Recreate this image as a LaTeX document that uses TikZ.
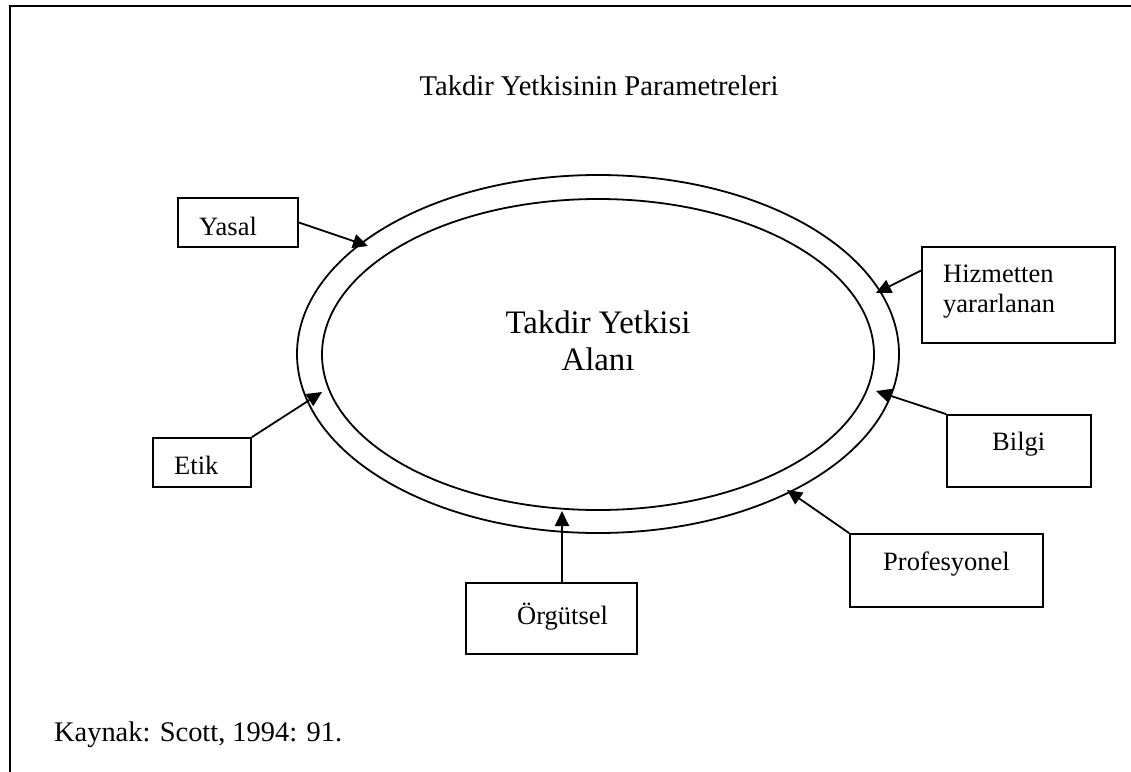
\documentclass[tikz,border=0pt]{standalone}
\usepackage{fontspec}
\setmainfont{Liberation Serif}
\usetikzlibrary{shapes.geometric,arrows.meta,calc}
\tikzset{
  box/.style={draw, line width=1.8pt, inner sep=0pt, minimum width=#1},
  lbl/.style={anchor=base west, inner sep=0pt, font=\fontsize{26.5}{30}\selectfont},
  conn/.style={line width=1.8pt, -{Triangle[length=15pt,width=14pt]}},
  ring/.style={draw, ellipse, line width=1.8pt, inner sep=0pt}
}
\begin{document}
\begin{tikzpicture}[x=1pt,y=-1pt]
\useasboundingbox (0,0) rectangle (1131,771);
% frame
\draw[line width=1.8pt] (1140,6) -- (10,6) -- (10,790);
% title
\node[anchor=base, inner sep=0pt, font=\fontsize{28.6}{34}\selectfont] (title) at (599,95) {Takdir Yetkisinin Parametreleri};
% ellipses
\node[ring, minimum width=602pt, minimum height=358pt] (outer) at (598,354) {};
\node[ring, minimum width=552pt, minimum height=311pt] (inner) at (598,354.5) {};
\node[align=center, inner sep=0pt, anchor=base, font=\fontsize{32.8}{37}\selectfont] (main) at (598,370) {Takdir Yetkisi\\Alanı};
% boxes
\node[box=120pt, minimum height=49pt] (yasal) at (238,222.5) {};
\node[box=193pt, minimum height=96pt] (hiz) at (1018.5,295) {};
\node[box=144pt, minimum height=72pt] (bilgi) at (1019,451) {};
\node[box=98pt, minimum height=49pt] (etik) at (202,462.5) {};
\node[box=171pt, minimum height=71pt] (org) at (551.5,618.5) {};
\node[box=193pt, minimum height=73pt] (prof) at (946.5,570.5) {};
% labels
\node[lbl] (yasalT) at (199,235) {Yasal};
\node[lbl, align=left] (hizT) at (943,312) {Hizmetten\\yararlanan};
\node[lbl] (bilgiT) at (992,450) {Bilgi};
\node[lbl] (etikT) at (174,474) {Etik};
\node[lbl] (orgT) at (517,624) {Örgütsel};
\node[lbl] (profT) at (883,570) {Profesyonel};
\node[anchor=base west, inner sep=0pt, font=\fontsize{28.4}{34}\selectfont] (src) at (54,741) {Kaynak: Scott, 1994: 91.};
% arrow tips
\coordinate (tYasal) at (368,246);
\coordinate (tHiz) at (876,293);
\coordinate (tBilgi) at (876,391);
\coordinate (tProf) at (787,490);
\coordinate (tOrg) at (562,511);
\coordinate (tEtik) at (322,392);
\coordinate (sHiz) at ($(hiz.north west)!0.25!(hiz.south west)$);
\coordinate (sOrg) at ($(org.north)+(10.5,0)$);
% connectors
\draw[conn] (yasal.east) -- (tYasal);
\draw[conn] (sHiz) -- (tHiz);
\draw[conn] (bilgi.north west) -- (tBilgi);
\draw[conn] (prof.north west) -- (tProf);
\draw[conn] (sOrg) -- (tOrg);
\draw[conn] (etik.north east) -- (tEtik);
\end{tikzpicture}
\end{document}
